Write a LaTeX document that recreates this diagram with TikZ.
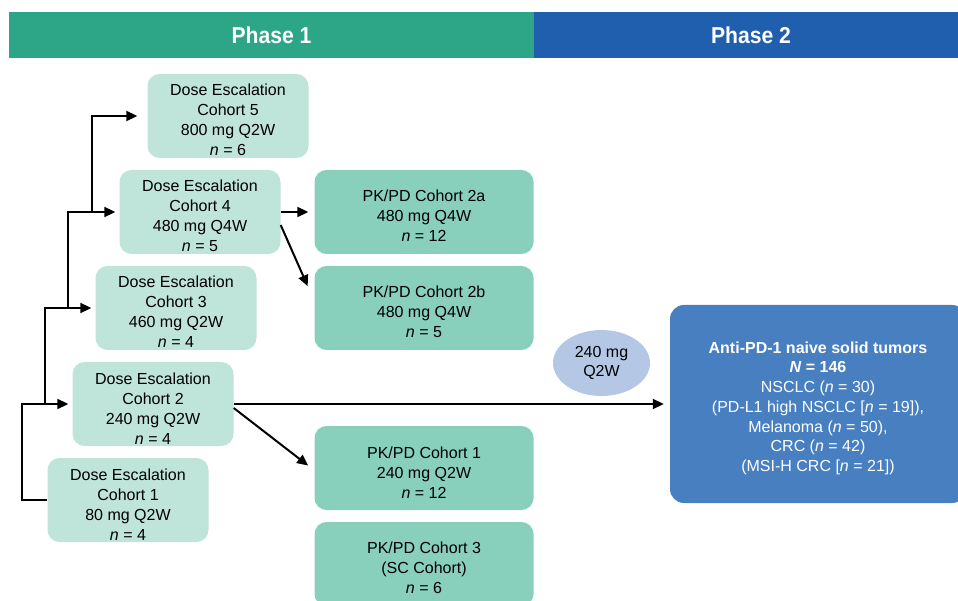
\documentclass[tikz,border=0pt]{standalone}
\usepackage{fontspec}
\setmainfont{Liberation Sans}
\usepackage{tikz}
\usetikzlibrary{arrows.meta,%
	shapes.geometric}
\usetikzlibrary {positioning}

\definecolor{phgreen}{RGB}{45,166,136}
\definecolor{phblue}{RGB}{31,95,174}
\definecolor{escfill}{RGB}{191,228,217}
\definecolor{pkfill}{RGB}{136,207,188}
\definecolor{dosefill}{RGB}{180,200,230}
\definecolor{armfill}{RGB}{72,127,193}
\newcommand{\toppad}{\rule{0pt}{20pt}}

\begin{document}
\begin{tikzpicture}[x = 1pt, y = -1pt, on grid, node distance = 96pt,
	esc/.style = {rectangle, rounded corners = 12pt, fill = escfill, minimum width = 161pt, minimum height = 84pt, inner sep = 0pt, align = center, font = \fontsize{16}{20}\selectfont, text = black},
	pkpd/.style = {esc, fill = pkfill, minimum width = 219pt},
	phase/.style = {rectangle, minimum height = 46pt, inner sep = 0pt, text = white, font = \fontsize{23}{26}\selectfont\bfseries},
	link/.style = {line width = 2pt, -{Triangle[length = 11pt, width = 10pt]}, shorten > = 4pt}]
	\useasboundingbox (0,0) rectangle (958,601);
	\node[phase, fill = phgreen, minimum width = 525pt] (ph1) at (271.5,35) {\scalebox{0.92}[1]{Phase 1}};
	\node[phase, fill = phblue, minimum width = 434pt] (ph2) at (751,35) {\scalebox{0.92}[1]{Phase 2}};
	\node[esc] (de1) at (128,500) {\toppad Dose Escalation\\Cohort 1\\80 mg Q2W\\\textit{n} = 4};
	\node[esc] (de2) [above right = 96pt and 25pt of de1] {\toppad Dose Escalation\\Cohort 2\\240 mg Q2W\\\textit{n} = 4};
	\node[esc] (de3) [above right = 96pt and 23pt of de2] {\toppad Dose Escalation\\Cohort 3\\460 mg Q2W\\\textit{n} = 4};
	\node[esc] (de4) [above right = 96pt and 24pt of de3] {\toppad Dose Escalation\\Cohort 4\\480 mg Q4W\\\textit{n} = 5};
	\node[esc] (de5) [above right = 96pt and 28pt of de4] {\toppad Dose Escalation\\Cohort 5\\800 mg Q2W\\\textit{n} = 6};
	\node[pkpd] (pk2a) [right = 224pt of de4] {\toppad PK/PD Cohort 2a\\480 mg Q4W\\\textit{n} = 12};
	\node[pkpd] (pk2b) [below = of pk2a] {\toppad PK/PD Cohort 2b\\480 mg Q4W\\\textit{n} = 5};
	\node[pkpd] (pk1) [below = 160pt of pk2b] {\toppad PK/PD Cohort 1\\240 mg Q2W\\\textit{n} = 12};
	\node[pkpd] (pk3) [below = of pk1] {\toppad PK/PD Cohort 3\\(SC Cohort)\\\textit{n} = 6};
	\node[ellipse, fill = dosefill, minimum width = 97pt, minimum height = 66pt, inner sep = 0pt, align = center, font = \fontsize{16}{19}\selectfont] (dose) at (601.5,363) {240 mg\\Q2W};
	\node[rectangle, rounded corners = 14pt, fill = armfill, minimum width = 296pt, minimum height = 198pt, inner sep = 0pt, text = white, align = center, font = \fontsize{16}{19.7}\selectfont] (arm) at (818,404) {\toppad\textbf{Anti-PD-1 naive solid tumors}\\\textbf{\textit{N} = 146}\\NSCLC (\textit{n} = 30)\\(PD-L1 high NSCLC [\textit{n} = 19]),\\Melanoma (\textit{n} = 50),\\CRC (\textit{n} = 42)\\(MSI-H CRC [\textit{n} = 21])};
	\draw[link] (de1.west) -- ++(-25,0) |- (de2.west);
	\draw[link] ([xshift = -27pt]de2.west) |- (de3.west);
	\draw[link] ([xshift = -27pt]de3.west) |- (de4.west);
	\draw[link, shorten > = 10pt] ([xshift = -27pt]de4.west) |- (de5.west);
	\draw[link, shorten > = 6pt] (de4.east) -- (pk2a.west);
	\draw[link] ([yshift = -13pt]de4.east) -- ([xshift = -5pt, yshift = -24pt]pk2b.north west);
	\draw[link] ([yshift = -4pt]de2.east) -- ([xshift = -3pt]pk1.west);
	\draw[link, shorten > = 6pt] (de2.east) -- (arm.west);
\end{tikzpicture}
\end{document}
